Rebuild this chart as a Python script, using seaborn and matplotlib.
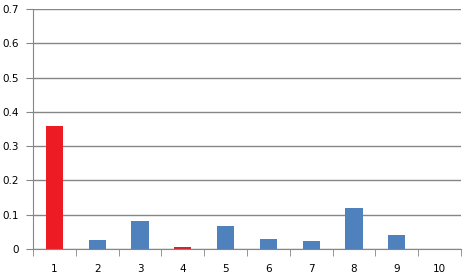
import matplotlib
matplotlib.use("Agg")
import matplotlib.pyplot as plt
import seaborn as sns
import pandas as pd

categories = ["1", "2", "3", "4", "5", "6", "7", "8", "9", "10"]
values = [0.360, 0.025, 0.081, 0.007, 0.068, 0.028, 0.022, 0.121, 0.042, 0.0]
colors = ["#ED1C24", "#4F81BD", "#4F81BD", "#D0232B", "#4F81BD",
          "#4F81BD", "#4F81BD", "#4F81BD", "#4F81BD", "#4F81BD"]
yticks = [0, 0.1, 0.2, 0.3, 0.4, 0.5, 0.6, 0.7]
ytick_labels = ["0", "0.1", "0.2", "0.3", "0.4", "0.5", "0.6", "0.7"]

sns.set_style("white")
plt.rcParams['font.family'] = ['DejaVu Sans']

df = pd.DataFrame({"cat": categories, "val": values})

fig = plt.figure(figsize=(4.73, 2.8), dpi=100)
ax = fig.add_axes([33/473, 1 - 249/280, (461-33)/473, (249-9)/280])
sns.barplot(data=df, x="cat", y="val", hue="cat", palette=colors,
            width=0.4, legend=False, ax=ax, saturation=1, linewidth=0)

ax.set_ylim(0, 0.7)
ax.set_xlim(-0.5, 9.5)
ax.set_yticks(yticks)
ax.set_yticklabels(ytick_labels)
ax.yaxis.grid(True, color="#868686", linewidth=1)
ax.set_axisbelow(True)
ax.set_xlabel("")
ax.set_ylabel("")

for s in ["top", "right"]:
    ax.spines[s].set_visible(False)
ax.spines["left"].set_color("#868686")
ax.spines["bottom"].set_color("#868686")

ax.tick_params(axis="y", which="major", length=5, color="#868686",
               labelsize=7.5, labelcolor="black", pad=5, left=True)
ax.tick_params(axis="x", which="major", length=0, labelsize=7.5,
               labelcolor="black", pad=11)
ax.set_xticks([i - 0.5 for i in range(11)], minor=True)
ax.tick_params(axis="x", which="minor", length=5, color="#868686", bottom=True)

fig.savefig("out.png", dpi=100)
